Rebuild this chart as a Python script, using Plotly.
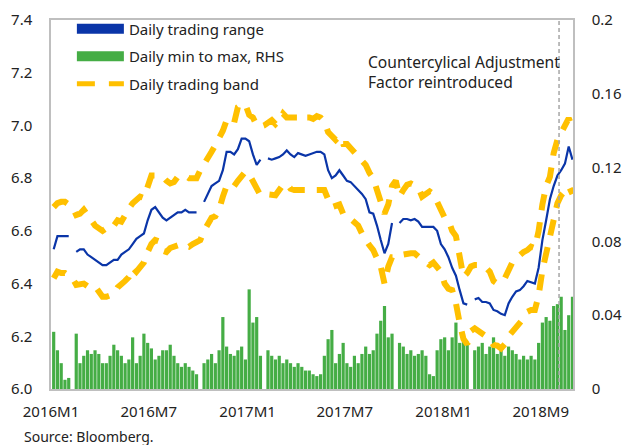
import pandas as pd
import plotly.graph_objects as go

weeks = pd.date_range("2016-01-06", periods=139, freq="7D")

# daily trading range (mid), CNY per USD; None = holiday week
trading_range = [
    6.53, 6.58, 6.58, 6.58, 6.58, None, 6.52, 6.53, 6.53, 6.51,
    6.50, 6.49, 6.48, 6.47, 6.47, 6.48, 6.49, 6.49, 6.51, 6.52,
    6.53, 6.55, 6.57, 6.58, 6.59, 6.64, 6.68, 6.69, 6.67, 6.65,
    6.64, 6.65, 6.66, 6.67, 6.67, 6.68, 6.67, 6.67, 6.67, None,
    6.71, 6.74, 6.77, 6.78, 6.79, 6.83, 6.90, 6.90, 6.89, 6.91,
    6.95, 6.95, 6.94, 6.89, 6.85, 6.87, None, 6.875, 6.87, 6.875,
    6.88, 6.89, 6.905, 6.89, 6.88, 6.895, 6.89, 6.885, 6.89, 6.895,
    6.90, 6.90, 6.89, 6.83, 6.80, 6.81, 6.83, 6.81, 6.79, 6.785,
    6.77, 6.755, 6.74, 6.72, 6.67, 6.665, 6.62, 6.565, 6.515, 6.55,
    6.63, None, 6.63, 6.645, 6.645, 6.64, 6.645, 6.635, 6.615, 6.615,
    6.615, 6.615, 6.60, 6.55, 6.53, 6.50, 6.46, 6.43, 6.375, 6.325,
    6.32, None, 6.34, 6.345, 6.33, 6.33, 6.325, 6.30, 6.295, 6.285,
    6.28, 6.325, 6.35, 6.37, 6.375, 6.39, 6.41, 6.405, 6.40, 6.46,
    6.565, 6.64, 6.72, 6.77, 6.81, 6.83, 6.855, 6.92, 6.87,
]

band_upper = [
    6.69, 6.705, 6.71, 6.71, 6.70, 6.69, 6.66, 6.665, 6.68, 6.655,
    6.64, 6.62, 6.61, 6.60, 6.61, 6.605, 6.62, 6.64, 6.635, 6.665,
    6.685, 6.705, 6.717, 6.73, 6.725, 6.775, 6.81, 6.81, 6.81, 6.805,
    6.79, 6.78, 6.785, 6.805, 6.805, 6.81, 6.80, 6.80, 6.80, 6.83,
    6.857, 6.88, 6.90, 6.925, 6.95, 6.98, 7.02, 7.025, 7.01, 7.07,
    7.08, 7.08, 7.04, 7.03, 7.00, 6.995, 7.00, 7.01, 7.02, 7.005,
    7.02, 7.045, 7.03, 7.03, 7.03, 7.03, 7.02, 7.03, 7.03, 7.025,
    7.035, 7.03, 7.015, 6.975, 6.96, 6.945, 6.96, 6.93, 6.93, 6.915,
    6.895, 6.88, 6.87, 6.85, 6.82, 6.80, 6.755, 6.705, 6.665, 6.70,
    6.77, 6.79, 6.73, 6.755, 6.775, 6.78, 6.77, 6.765, 6.73, 6.74,
    6.75, 6.74, 6.71, 6.69, 6.65, 6.64, 6.60, 6.58, 6.495, 6.425,
    6.44, 6.465, 6.47, 6.47, 6.46, 6.46, 6.445, 6.41, 6.40, 6.405,
    6.42, 6.45, 6.48, 6.495, 6.51, 6.52, 6.527, 6.54, 6.535, 6.60,
    6.70, 6.77, 6.805, 6.895, 6.945, 6.97, 6.995, 7.027, 6.995,
]

band_lower = [
    6.42, 6.445, 6.44, 6.44, 6.43, 6.42, 6.395, 6.40, 6.40, 6.39,
    6.385, 6.39, 6.37, 6.35, 6.35, 6.355, 6.36, 6.385, 6.395, 6.41,
    6.425, 6.46, 6.445, 6.465, 6.48, 6.52, 6.55, 6.565, 6.56, 6.525,
    6.52, 6.535, 6.54, 6.545, 6.55, 6.545, 6.54, 6.55, 6.56, 6.565,
    6.60, 6.63, 6.65, 6.655, 6.68, 6.73, 6.77, 6.78, 6.77, 6.79,
    6.81, 6.825, 6.815, 6.79, 6.755, 6.735, 6.74, 6.74, 6.74, 6.735,
    6.755, 6.775, 6.78, 6.76, 6.755, 6.755, 6.76, 6.755, 6.755, 6.76,
    6.76, 6.755, 6.755, 6.72, 6.69, 6.695, 6.70, 6.665, 6.65, 6.645,
    6.635, 6.62, 6.59, 6.565, 6.545, 6.527, 6.495, 6.464, 6.40, 6.464,
    6.50, 6.50, 6.50, 6.51, 6.515, 6.515, 6.515, 6.50, 6.49, 6.48,
    6.47, 6.48, 6.464, 6.445, 6.40, 6.38, 6.375, 6.325, 6.25, 6.19,
    6.17, 6.22, 6.23, 6.22, 6.21, 6.20, 6.19, 6.167, 6.165, 6.154,
    6.17, 6.20, 6.215, 6.23, 6.245, 6.268, 6.293, 6.30, 6.30, 6.355,
    6.45, 6.52, 6.57, 6.66, 6.705, 6.735, 6.755, 6.77, 6.74,
]

# daily min to max (RHS)
min_to_max = [
    0.031, 0.021, 0.014, 0.005, 0.006, None, 0.030, 0.014, 0.018, 0.021,
    0.019, 0.021, 0.019, 0.014, 0.014, 0.018, 0.024, 0.021, 0.018, 0.014,
    0.016, 0.028, 0.014, 0.018, 0.030, 0.025, 0.022, 0.016, 0.018, 0.021,
    0.021, 0.024, 0.018, 0.014, 0.012, 0.014, 0.012, 0.010, 0.008, None,
    0.014, 0.016, 0.019, 0.014, 0.021, 0.039, 0.023, 0.019, 0.018, 0.021,
    0.023, 0.016, 0.054, 0.036, 0.039, 0.018, None, 0.021, 0.018, 0.016,
    0.018, 0.014, 0.016, 0.014, 0.012, 0.014, 0.012, 0.010, 0.010, 0.008,
    0.007, 0.008, 0.018, 0.027, 0.032, 0.014, 0.019, 0.025, 0.014, 0.012,
    0.018, 0.014, 0.019, 0.023, 0.019, 0.021, 0.030, 0.037, 0.045, 0.028,
    0.030, None, 0.025, 0.023, 0.019, 0.021, 0.018, 0.019, 0.021, 0.018,
    0.008, 0.007, 0.021, 0.027, 0.028, 0.021, 0.028, 0.036, 0.025, 0.030,
    0.025, None, 0.021, 0.023, 0.025, 0.019, 0.023, 0.028, 0.019, 0.021,
    0.018, 0.023, 0.021, 0.019, 0.016, 0.018, 0.016, 0.018, 0.016, 0.025,
    0.036, 0.039, 0.037, 0.045, 0.046, 0.050, 0.032, 0.040, 0.050,
]

tick_dates = ["2016-01-01", "2016-07-01", "2017-01-01",
              "2017-07-01", "2018-01-01", "2018-07-01"]
tick_labels = ["2016M1", "2016M7", "2017M1", "2017M7", "2018M1", "2018M9"]
ccaf_date = "2018-08-04"

blue = "#0A35A8"
green = "#45AD45"
yellow = "#FFC000"
axis_grey = "#BFBFBF"
font_family = "Noto Sans"

fig = go.Figure()

# bars on the (right-hand) primary axis so that lines draw on top
fig.add_trace(go.Bar(x=weeks, y=min_to_max, marker_color=green,
                     marker_line_width=0, yaxis="y", showlegend=False))
fig.add_trace(go.Scatter(x=weeks, y=trading_range, mode="lines",
                         line=dict(color=blue, width=2.2), yaxis="y2",
                         connectgaps=False, showlegend=False))
for band in (band_upper, band_lower):
    fig.add_trace(go.Scatter(x=weeks, y=band, mode="lines",
                             line=dict(color=yellow, width=6,
                                       dash="16px,12px"),
                             yaxis="y2", showlegend=False))

# legend entries
legend_items = [("Daily trading range", blue, 10, "solid"),
                ("Daily min to max, RHS", green, 10, "solid"),
                ("Daily trading band", yellow, 5, "18px,14px")]
for name, color, width, dash in legend_items:
    fig.add_trace(go.Scatter(x=[None], y=[None], mode="lines", name=name,
                             legendgroup=name, yaxis="y2",
                             line=dict(color=color, width=width, dash=dash)))

fig.add_shape(type="line", x0=ccaf_date, x1=ccaf_date, xref="x",
              y0=0, y1=1, yref="paper",
              line=dict(color="#A6A6A6", width=1.5, dash="4px,3px"))

fig.add_annotation(text="Countercylical Adjustment<br>Factor reintroduced",
                   xref="paper", yref="paper", x=0.603, y=0.858,
                   xanchor="left", yanchor="middle", align="left",
                   showarrow=False, font=dict(size=15.6, color="#222"))
fig.add_annotation(text="Source: Bloomberg.", xref="paper", yref="paper",
                   x=-0.056, y=-0.13, xanchor="left", yanchor="middle",
                   showarrow=False, font=dict(size=14, color="#222"))

fig.update_layout(
    width=624, height=445,
    margin=dict(l=51, r=51, t=20, b=56),
    plot_bgcolor="white", paper_bgcolor="white",
    font=dict(family=font_family, size=15, color="#222"),
    bargap=0.15,
    legend=dict(x=0.04, y=1.02, xanchor="left", yanchor="top",
                bgcolor="rgba(0,0,0,0)", itemwidth=47,
                tracegroupgap=5, font=dict(size=15)),
    xaxis=dict(type="date", range=["2016-01-01", "2018-08-30"],
               tickvals=tick_dates, ticktext=tick_labels,
               showgrid=False, zeroline=False, ticks="", automargin=False,
               showline=True, mirror=True, linecolor=axis_grey,
               linewidth=1.5, ticklabelstandoff=8),
    yaxis=dict(side="right", range=[0, 0.2],
               tickvals=[0, 0.04, 0.08, 0.12, 0.16, 0.2],
               ticktext=["0", "0.04", "0.08", "0.12", "0.16", "0.2"],
               showgrid=False, zeroline=False, ticks="", automargin=False,
               showline=True, linecolor=axis_grey, linewidth=1.5,
               ticklabelstandoff=14),
    yaxis2=dict(side="left", overlaying="y", range=[6.0, 7.4], dtick=0.2,
                tickformat=".1f", showgrid=False, zeroline=False,
                ticks="", automargin=False, showline=True,
                linecolor=axis_grey, linewidth=1.5, ticklabelstandoff=14),
)

# the page body has a default 8px margin; remove it so the chart sits at 0,0
fig.write_html("out.html", config={"displayModeBar": False},
               post_script="document.body.style.margin='0px';")
